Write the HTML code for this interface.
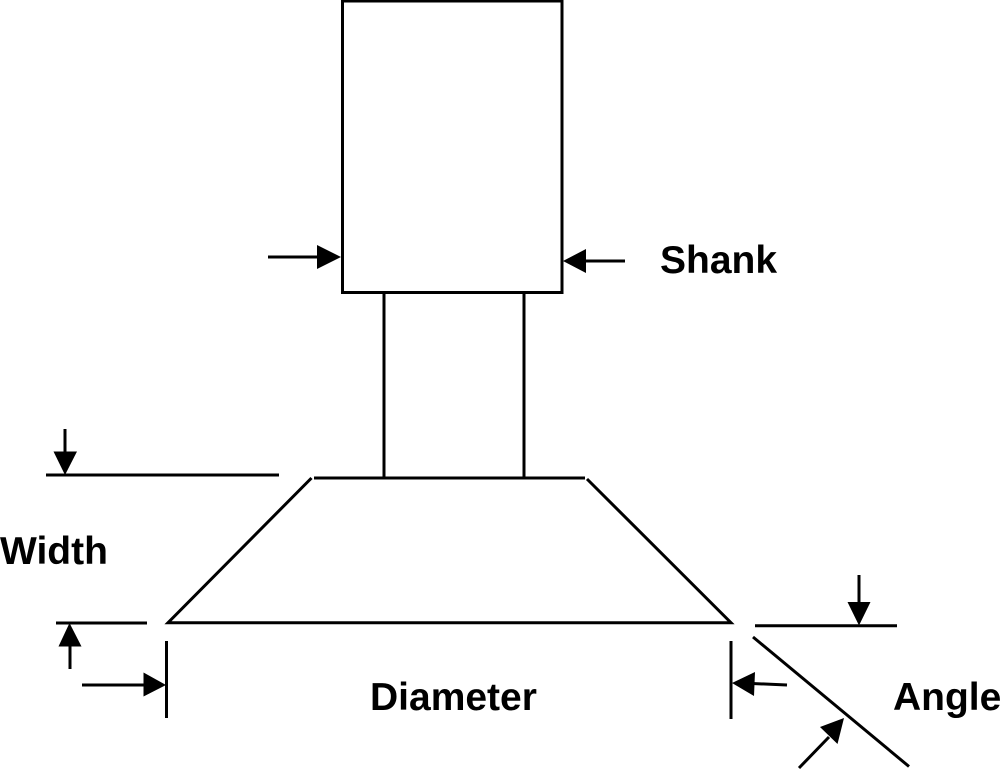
<!DOCTYPE html>
<html>
<head>
<meta charset="utf-8">
<style>
html,body{margin:0;padding:0;background:#fff;width:1000px;height:771px;overflow:hidden}
svg{display:block}
text{font-family:"Liberation Sans",Arial,sans-serif;font-weight:bold;font-size:39px;fill:#000}
</style>
</head>
<body>
<svg width="1000" height="771" viewBox="0 0 1000 771" xmlns="http://www.w3.org/2000/svg">
<g fill="none" stroke="#000" stroke-width="3">
<rect x="342.5" y="1" width="219.5" height="291.500"/>
<path d="M384 293V478M524 293V478"/>
<path d="M314 478H585"/>
<path d="M311.500 478L168 622.700H731L587 479"/>
<path d="M46 475H279"/>
<path d="M56 623H147"/>
<path d="M755 625.700H897"/>
<path d="M166.500 641V718"/>
<path d="M731 641V719"/>
<path d="M753 637L909 766.500"/>
<path d="M268 257H320"/>
<path d="M625 261H582"/>
<path d="M65 429V455"/>
<path d="M70 669V642"/>
<path d="M82 685H146"/>
<path d="M859 575V605"/>
<path d="M787 685L752 683.500"/>
<path d="M799 768L829 737"/>
</g>
<g fill="#000">
<polygon points="341,257 317,245 317,269"/>
<polygon points="563,261 586,249 586,273"/>
<polygon points="65,475 53.500,451.500 77,451.500"/>
<polygon points="69.500,623 58.500,646.500 81.500,646.500"/>
<polygon points="166,685 143.500,672.500 143.500,696.500"/>
<polygon points="859,625.500 847.500,602 870.500,602"/>
<polygon points="732,683 755,672 754,696"/>
<polygon points="844,718 820,727 837.500,744"/>
</g>
<text x="660" y="273">Shank</text>
<text x="0" y="564">Width</text>
<text x="370" y="710">Diameter</text>
<text x="893" y="710">Angle</text>
</svg>
</body>
</html>
